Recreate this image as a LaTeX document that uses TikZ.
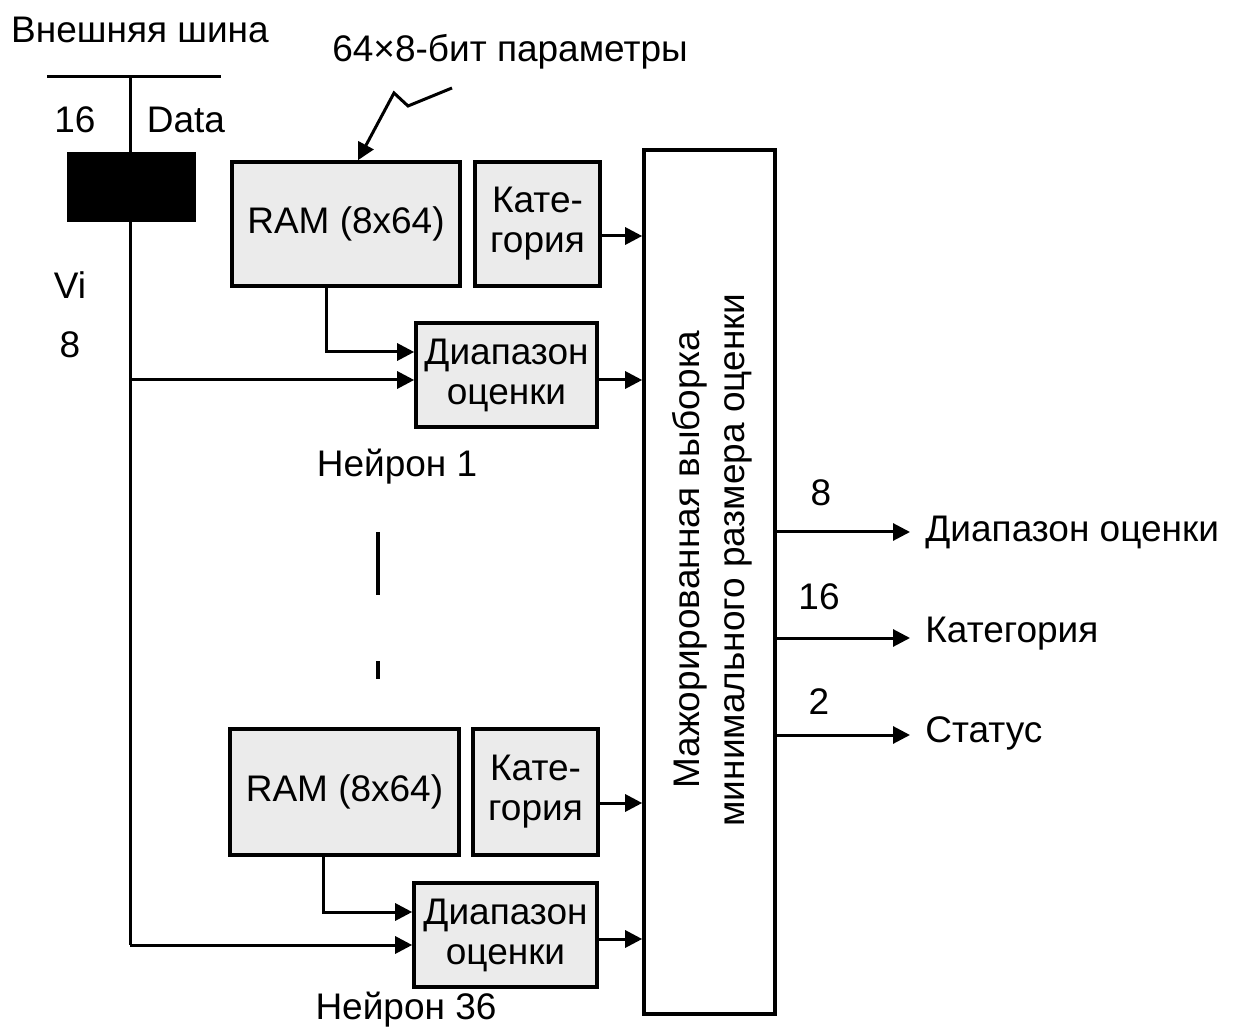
\documentclass[tikz,border=0pt]{standalone}
\usepackage{fontspec}
\setmainfont{Liberation Sans}
\usetikzlibrary{arrows.meta}
\begin{document}
\begin{tikzpicture}[x=0.5pt,y=-0.5pt,
  every node/.style={font=\fontsize{18.5}{20}\selectfont},
  box/.style={draw,line width=1.8pt,fill=gray!16,inner sep=0pt,align=center},
  conn/.style={line width=1.5pt},
  arr/.style={conn,-{Triangle[length=8.5pt,width=8.5pt]}},
  lbl/.style={inner sep=0pt}]
\useasboundingbox (0,0) rectangle (1236,1031);
% bus
\node[lbl] (ext) at (140,30) {Внешняя шина};
\coordinate (bl) at (47,77);
\coordinate (br) at (221,77);
\coordinate (bt) at (130,77);
\coordinate (bb) at (130,945);
\draw[conn] (bl) -- (br);
\node[lbl] (n16) at (75,120) {16};
\node[lbl] (data) at (186,120) {Data};
\node[lbl] (vi) at (70,285) {Vi};
\node[lbl] (n8) at (70,345) {8};
% boxes
\node[box,minimum width=114pt,minimum height=62pt] (ram1) at (346,224) {RAM (8x64)};
\node[box,minimum width=62.5pt,minimum height=62pt] (cat1) at (537.5,224) {Кате-\\гория};
\node[box,minimum width=90.5pt,minimum height=52pt] (dia1) at (506.5,375) {Диапазон\\оценки};
\node[box,minimum width=114.5pt,minimum height=63pt] (ram2) at (344.5,792) {RAM (8x64)};
\node[box,minimum width=62.5pt,minimum height=63pt] (cat2) at (535.5,792) {Кате-\\гория};
\node[box,minimum width=91.5pt,minimum height=52pt] (dia2) at (505.5,935) {Диапазон\\оценки};
\node[draw,line width=1.8pt,fill=white,minimum width=65.5pt,minimum height=432pt,inner sep=0pt] (big) at (709.5,582) {};
\node[rotate=90,align=center,font=\fontsize{18.5}{22.5}\selectfont] (bigt) at (712,560) {Мажорированная выборка\\минимального размера оценки};
% bus line and block
\draw[conn] (bt) -- (bb);
\draw[arr] (bb) -- (dia2.west |- bb);
\node[fill=black,draw=black,minimum width=64pt,minimum height=34.5pt,inner sep=0pt] (blk) at (131,186.5) {};
% params arrow
\node[lbl] (par) at (510,52) {64×8-бит параметры};
\coordinate (z1) at (452,88);
\coordinate (z2) at (408,106);
\coordinate (z3) at (394,93);
\draw[arr] (z1) -- (z2) -- (z3) -- (ram1.north -| 358,0);
% neuron 1
\draw[arr] (ram1.south -| 326,0) |- (dia1.west |- 0,352);
\draw[arr] (bt |- 0,380) -- (dia1.west |- 0,380);
\draw[arr] (cat1.east |- 0,236) -- (big.west |- 0,236);
\draw[arr] (dia1.east |- 0,380) -- (big.west |- 0,380);
\node[lbl] (neu1) at (397,467) {Нейрон 1};
% dashes
\draw[line width=2pt] (378,532) -- (378,595);
\draw[line width=2pt] (378,661) -- (378,679);
% neuron 36
\draw[arr] (ram2.south -| 323,0) |- (dia2.west |- 0,912);
\draw[arr] (cat2.east |- 0,803) -- (big.west |- 0,803);
\draw[arr] (dia2.east |- 0,939) -- (big.west |- 0,939);
\node[lbl] (neu36) at (406,1010) {Нейрон 36};
% outputs
\coordinate (e1) at (910,532);
\coordinate (e2) at (910,638);
\coordinate (e3) at (910,735);
\draw[arr] (big.east |- e1) -- (e1);
\draw[arr] (big.east |- e2) -- (e2);
\draw[arr] (big.east |- e3) -- (e3);
\node[lbl,anchor=west] (o1) at (925,532) {Диапазон оценки};
\node[lbl,anchor=west] (o2) at (925,634) {Категория};
\node[lbl,anchor=west] (o3) at (925,733) {Статус};
\node[lbl] (w1) at (821,493) {8};
\node[lbl] (w2) at (819,597) {16};
\node[lbl] (w3) at (819,702) {2};
\end{tikzpicture}
\end{document}
